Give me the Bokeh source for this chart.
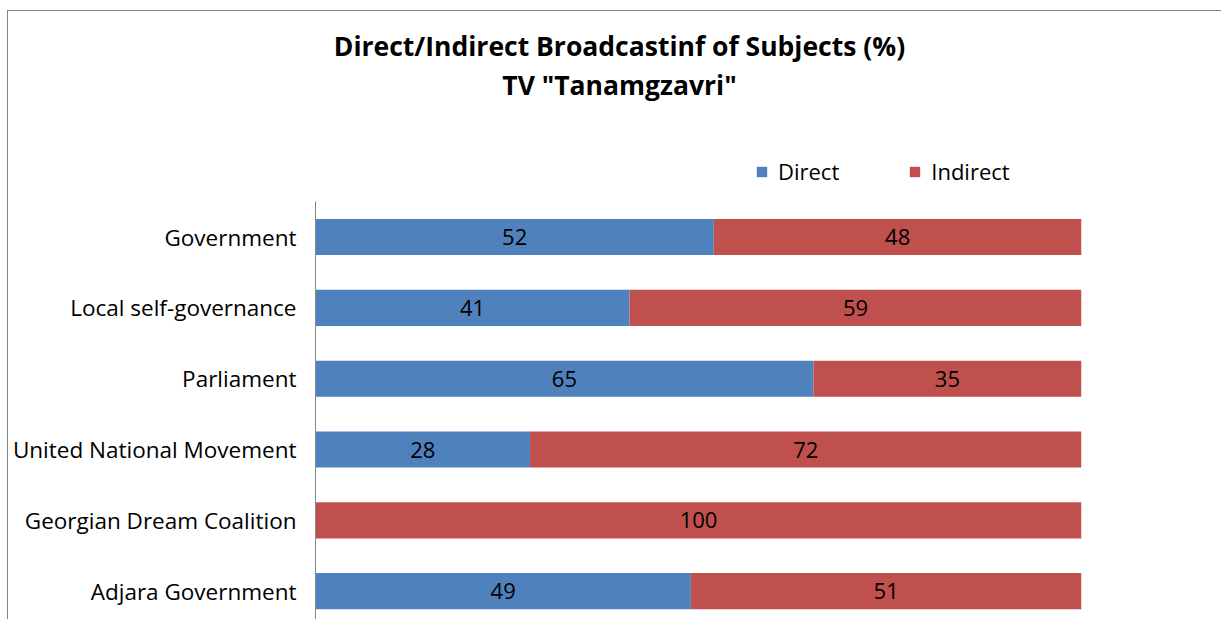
import html
from bokeh.plotting import figure
from bokeh.models import ColumnDataSource, Range1d, FixedTicker, Div
from bokeh.layouts import column
from bokeh.core.properties import value
from bokeh.embed import file_html
from bokeh.resources import INLINE

subjects = ["Government", "Local self-governance", "Parliament",
            "United National Movement", "Georgian Dream Coalition", "Adjara Government"]
direct = [52, 41, 65, 28, 0, 49]
indirect = [48, 59, 35, 72, 100, 51]
series_names = ["Direct", "Indirect"]
colors = ["#4F81BD", "#C0504D"]
title_lines = ["Direct/Indirect Broadcastinf of Subjects (%)", 'TV "Tanamgzavri"']

FONT = "Open Sans"
pos = list(range(len(subjects)))

src = ColumnDataSource(dict(pos=pos, Direct=direct, Indirect=indirect))

DIV_H = 119
p = figure(width=1213, height=479, output_backend="svg", toolbar_location=None,
           x_range=Range1d(0, 100), y_range=Range1d(5.4, -1.363),
           min_border_left=307, min_border_right=140, min_border_top=0,
           min_border_bottom=0, x_axis_location=None)

p.hbar_stack(series_names, y="pos", height=0.51, color=colors,
             line_color=None, source=src, legend_label=series_names)

p.xgrid.visible = False
p.ygrid.visible = False
p.outline_line_color = None

ax = p.yaxis[0]
ax.bounds = (-0.5, 5.4)
ax.ticker = FixedTicker(ticks=pos)
ax.major_label_overrides = {i: s for i, s in zip(pos, subjects)}
ax.major_tick_line_color = None
ax.minor_tick_line_color = None
ax.axis_line_color = "#868686"
ax.major_label_text_font = FONT
ax.major_label_text_font_size = "22.5px"
ax.major_label_text_color = "#000000"
ax.major_label_standoff = 13

# value labels centered in each segment
lab_y, lab_x, lab_t = [], [], []
for i, d, ind in zip(pos, direct, indirect):
    if d > 0:
        lab_y.append(i); lab_x.append(d / 2); lab_t.append(str(d))
    if ind > 0:
        lab_y.append(i); lab_x.append(d + ind / 2); lab_t.append(str(ind))
lsrc = ColumnDataSource(dict(x=lab_x, y=lab_y, t=lab_t))
p.text(x="x", y="y", text="t", source=lsrc, text_align="center",
       text_baseline="middle", text_font=value(FONT), text_font_size="22px",
       text_color="#000000")

lg = p.legend[0]
lg.orientation = "horizontal"
lg.location = (440, 433)
lg.glyph_width = 13
lg.glyph_height = 13
lg.label_height = 20
lg.label_text_font = FONT
lg.label_text_font_size = "22px"
lg.label_text_color = "#000000"
lg.label_standoff = 10
lg.spacing = 69
lg.padding = 0
lg.margin = 0
lg.border_line_color = None
lg.background_fill_alpha = 0

title_html = "<br>".join(html.escape(t) for t in title_lines)
div = Div(text=title_html, width=1213, height=DIV_H,
          styles={"font-family": FONT, "font-weight": "bold", "font-size": "26.5px",
                  "line-height": "39px", "text-align": "center", "color": "#000000",
                  "padding-top": "11px", "box-sizing": "border-box"})

layout = column(div, p, spacing=0, margin=(10, 0, 0, 7),
                styles={"border-top": "1px solid #868686",
                        "border-left": "1px solid #868686"})

open("out.html", "w").write(file_html(layout, INLINE))
